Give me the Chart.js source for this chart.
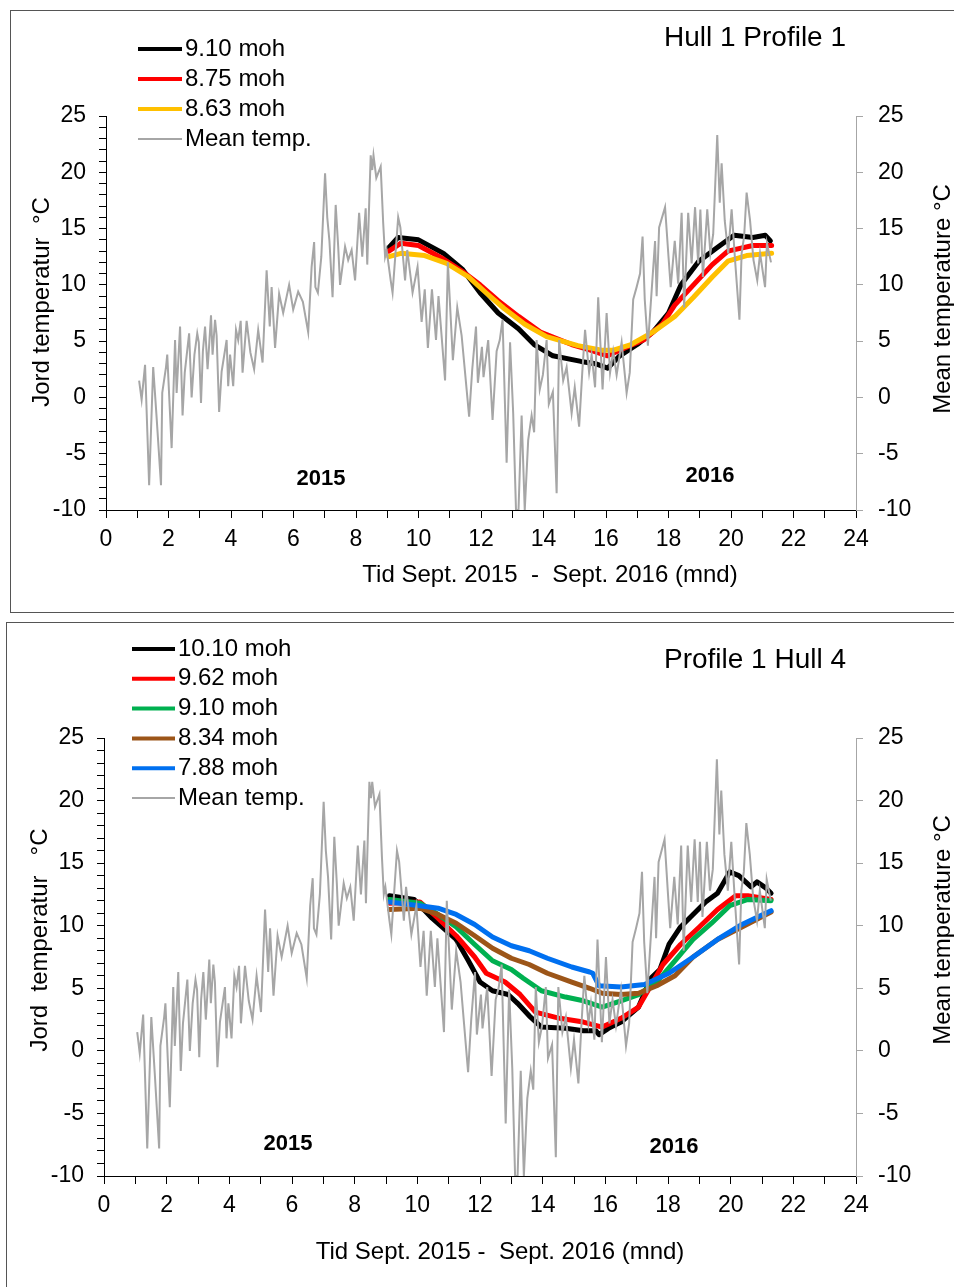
<!DOCTYPE html>
<html>
<head>
<meta charset="utf-8">
<title>Jordtemperatur</title>
<script src="https://cdn.jsdelivr.net/npm/chart.js@4.4.1/dist/chart.umd.min.js"></script>
<style>
    body { margin: 0; background: #fff; width: 954px; height: 1287px; overflow: hidden; position: relative; }
    .frame { position: absolute; border: 1px solid #555; }
    #f1 { left: 10px; top: 10px; width: 1000px; height: 601px; }
    #f2 { left: 6px; top: 622px; width: 1000px; height: 700px; }
    canvas { position: absolute; left: 0; }
    #c1 { top: 0; }
    #c2 { top: 615px; }
</style>
</head>
<body>
<div class="frame" id="f1"></div>
<div class="frame" id="f2"></div>
<canvas id="c1" width="954" height="615"></canvas>
<canvas id="c2" width="954" height="672"></canvas>
<script>
// Mean air temperature (same series in both panels)
const meanMonths = [
    1.06, 1.14, 1.25, 1.38, 1.51, 1.62, 1.76, 1.80, 1.92, 1.96,
    2.10, 2.21, 2.26, 2.37, 2.45, 2.52, 2.66, 2.74, 2.83, 2.92,
    2.97, 3.04, 3.10, 3.17, 3.25, 3.30, 3.36, 3.41, 3.49, 3.54,
    3.62, 3.70, 3.86, 3.91, 3.97, 4.07, 4.16, 4.23, 4.31, 4.37,
    4.50, 4.62, 4.74, 4.87, 5.01, 5.14, 5.24, 5.30, 5.41, 5.54,
    5.67, 5.86, 5.99, 6.15, 6.30, 6.47, 6.58, 6.66, 6.70, 6.78,
    6.89, 7.01, 7.08, 7.15, 7.25, 7.35, 7.43, 7.49, 7.65, 7.75,
    7.86, 7.97, 8.10, 8.20, 8.31, 8.36, 8.47, 8.52, 8.56, 8.65,
    8.79, 8.87, 8.93, 8.98, 9.11, 9.17, 9.35, 9.42, 9.57, 9.64,
    9.81, 9.97, 10.10, 10.20, 10.30, 10.43, 10.56, 10.64, 10.85, 10.94,
    11.10, 11.24, 11.38, 11.49, 11.62, 11.72, 11.84, 11.90, 12.03, 12.08,
    12.23, 12.37, 12.50, 12.60, 12.69, 12.82, 12.93, 13.03, 13.12, 13.20,
    13.30, 13.40, 13.51, 13.62, 13.70, 13.78, 13.88, 13.98, 14.10, 14.17,
    14.30, 14.36, 14.42, 14.50, 14.63, 14.74, 14.90, 15.00, 15.14, 15.24,
    15.33, 15.46, 15.54, 15.65, 15.75, 15.89, 16.02, 16.13, 16.23, 16.34,
    16.50, 16.66, 16.76, 16.87, 16.98, 17.09, 17.17, 17.24, 17.34, 17.57,
    17.62, 17.70, 17.89, 18.00, 18.07, 18.20, 18.31, 18.42, 18.50, 18.63,
    18.74, 18.85, 18.95, 19.02, 19.10, 19.24, 19.34, 19.43, 19.56, 19.64,
    19.70, 19.80, 19.91, 20.02, 20.13, 20.27, 20.34, 20.42, 20.50, 20.61,
    20.72, 20.84, 20.93, 21.09, 21.15, 21.28
];
const meanTemps = [
    1.5, -0.2, 2.9, -7.8, 2.7, -1.8, -7.8, 0.4, 2.7, 3.8,
    -4.5, 5.1, 0.4, 6.3, -1.6, 2.2, 5.7, 0.0, 3.8, 5.7,
    4.9, -0.5, 4.1, 6.3, 2.5, 4.6, 7.3, 3.8, 6.9, 5.5,
    -1.3, 2.3, 5.1, 1.0, 3.8, 1.0, 6.0, 5.1, 6.8, 2.2,
    6.8, 4.0, 2.5, 6.0, 3.1, 11.3, 6.3, 9.8, 4.4, 9.2,
    7.5, 10.0, 7.8, 9.4, 8.5, 5.8, 11.6, 13.8, 9.8, 9.3,
    12.5, 19.9, 16.0, 13.9, 8.9, 17.1, 13.4, 10.0, 13.4, 12.2,
    13.1, 10.4, 16.4, 12.5, 16.8, 11.8, 21.5, 20.2, 21.5, 19.5,
    20.5, 15.5, 12.5, 13.1, 10.4, 9.3, 16.0, 15.1, 10.4, 13.1,
    9.3, 11.6, 6.7, 9.6, 4.4, 9.6, 5.1, 9.0, 1.5, 12.0,
    3.3, 8.0, 5.5, 2.2, -1.7, 2.5, 6.3, 1.3, 4.5, 1.8,
    5.1, -2.0, 4.1, 5.1, 6.9, -5.8, 4.9, -1.4, -10.0, -10.0,
    -1.6, -10.0, -3.8, -1.6, -3.1, 5.1, 0.7, 2.0, 5.1, -0.6,
    0.5, -4.0, -8.5, 5.1, 1.5, 2.7, -1.4, 0.9, -2.6, 2.2,
    6.0, 2.2, 3.8, 0.9, 8.9, 0.7, 7.5, 2.2, 4.1, 2.0,
    4.9, 0.4, 2.2, 8.7, 9.8, 11.0, 14.3, 8.7, 4.6, 13.9,
    9.0, 15.1, 16.9, 12.5, 9.8, 13.9, 10.1, 16.4, 8.0, 16.4,
    11.9, 16.9, 11.9, 16.7, 10.7, 16.7, 12.8, 14.5, 23.3, 17.3,
    20.8, 15.7, 12.8, 16.7, 12.2, 6.9, 12.8, 14.3, 18.2, 15.7,
    12.2, 10.4, 12.8, 9.8, 13.7, 12.0
];

// Hull 1 Profile 1 - soil temperatures
const h1m910Months = [9.05, 9.34, 10.0, 10.8, 11.4, 11.97, 12.55, 13.2, 13.7, 14.3, 15.2, 15.66, 16.05, 16.44, 17.0, 17.5, 18.0, 18.4, 18.97, 19.55, 20.1, 20.7, 21.1, 21.26];
const h1m910Temps  = [13.3, 14.2, 14.0, 12.8, 11.4, 9.3, 7.5, 6.1, 4.7, 3.7, 3.2, 3.0, 2.6, 3.7, 4.7, 5.8, 7.5, 10.0, 12.1, 13.3, 14.4, 14.2, 14.4, 13.9];
const h1m875Months = [9.05, 9.44, 10.0, 10.8, 11.4, 11.97, 12.55, 13.2, 13.9, 14.9, 15.5, 16.05, 16.6, 17.2, 17.8, 18.2, 18.8, 19.4, 19.9, 20.7, 21.3];
const h1m875Temps  = [13.0, 13.7, 13.5, 12.3, 11.2, 10.0, 8.6, 7.2, 5.8, 4.7, 4.2, 3.7, 4.4, 5.1, 6.5, 8.2, 10.0, 11.8, 13.0, 13.5, 13.5];
const h1m863Months = [9.05, 9.44, 10.2, 10.9, 11.6, 12.16, 12.74, 13.4, 14.1, 15.1, 15.86, 16.24, 16.8, 17.5, 18.2, 18.8, 19.4, 19.9, 20.5, 21.3];
const h1m863Temps  = [12.5, 12.8, 12.6, 11.9, 10.7, 9.3, 7.9, 6.5, 5.4, 4.6, 4.2, 4.2, 4.7, 5.8, 7.2, 8.9, 10.7, 12.1, 12.6, 12.8];

// Profile 1 Hull 4 - soil temperatures
const h4m1010Months = [9.11, 9.9, 10.47, 11.24, 11.63, 12.0, 12.4, 12.9, 13.2, 13.57, 13.96, 14.73, 15.3, 15.7, 15.8, 16.1, 16.5, 17.06, 17.45, 17.74, 18.03, 18.4, 18.8, 19.2, 19.58, 19.97, 20.26, 20.65, 20.84, 21.13, 21.29];
const h4m1010Temps  = [12.4, 12.1, 10.6, 8.9, 7.2, 5.5, 4.8, 4.5, 3.8, 2.8, 1.9, 1.8, 1.6, 1.6, 1.3, 1.8, 2.3, 3.5, 5.8, 6.5, 8.5, 9.9, 10.9, 11.9, 12.6, 14.3, 14.0, 13.1, 13.5, 13.0, 12.6];
const h4m962Months = [9.11, 10.08, 10.66, 11.24, 11.83, 12.2, 12.8, 13.28, 13.77, 14.54, 15.3, 15.9, 16.5, 17.06, 17.45, 17.84, 18.4, 19.0, 19.58, 20.16, 20.55, 21.29];
const h4m962Temps  = [11.8, 11.9, 10.6, 9.2, 7.5, 6.2, 5.5, 4.5, 3.1, 2.6, 2.3, 1.9, 2.6, 3.5, 5.2, 6.9, 8.5, 9.9, 11.3, 12.4, 12.4, 12.1];
const h4m910Months = [9.11, 10.08, 10.66, 11.24, 11.83, 12.4, 13.0, 13.38, 13.96, 14.73, 15.3, 15.9, 16.5, 17.06, 17.64, 18.22, 18.8, 19.39, 19.97, 20.55, 21.29];
const h4m910Temps  = [12.1, 11.8, 10.9, 9.9, 8.5, 7.2, 6.5, 5.8, 4.8, 4.3, 4.0, 3.5, 4.0, 4.5, 5.5, 7.2, 8.9, 10.2, 11.6, 12.1, 12.0];
const h4m834Months = [9.11, 10.08, 10.66, 11.24, 11.83, 12.4, 13.0, 13.57, 14.15, 14.93, 15.5, 15.9, 16.5, 17.06, 17.64, 18.22, 18.8, 19.58, 20.36, 21.13, 21.29];
const h4m834Temps  = [11.3, 11.4, 10.9, 10.2, 9.2, 8.2, 7.4, 6.9, 6.2, 5.5, 5.0, 4.6, 4.5, 4.6, 5.2, 6.0, 7.5, 8.9, 9.9, 10.9, 11.1];
const h4m788Months = [9.11, 10.08, 10.66, 11.24, 11.83, 12.4, 13.0, 13.57, 14.15, 14.93, 15.5, 15.6, 15.8, 16.5, 17.25, 18.03, 18.8, 19.58, 20.36, 21.03, 21.29];
const h4m788Temps  = [11.9, 11.6, 11.4, 10.9, 10.1, 9.1, 8.4, 8.0, 7.4, 6.7, 6.3, 6.2, 5.2, 5.1, 5.3, 6.2, 7.5, 8.9, 10.1, 10.9, 11.2];

const FONT = "'Liberation Sans', Arial, sans-serif";
const GREY = '#a6a6a6';

function pairs(xs, ys) {
    return xs.map((x, i) => ({ x: x, y: ys[i] }));
}

function soil(label, xs, ys, color, order) {
    return {
        label: label, data: pairs(xs, ys), yAxisID: 'y', order: order,
        borderColor: color, backgroundColor: color, borderWidth: 5,
        borderJoinStyle: 'round', borderCapStyle: 'round', pointRadius: 0, legendWidth: 4
    };
}

function mean() {
    return {
        label: 'Mean temp.', data: pairs(meanMonths, meanTemps), yAxisID: 'y2', order: 0,
        borderColor: GREY, backgroundColor: GREY, borderWidth: 2, pointRadius: 0, legendWidth: 2
    };
}

// texts drawn on top of the chart: title, legend, years, axis titles
const panelText = {
    id: 'panelText',
    afterDraw(chart, args, o) {
        const ctx = chart.ctx;
        const sx = chart.scales.x, sy = chart.scales.y;
        ctx.save();
        ctx.fillStyle = '#000';
        ctx.textBaseline = 'middle';

        ctx.font = '28px ' + FONT;
        ctx.textAlign = 'center';
        ctx.fillText(o.title, o.titleX, o.titleY);

        ctx.font = '24px ' + FONT;
        ctx.textAlign = 'left';
        chart.data.datasets.forEach((ds, i) => {
            const y = o.legendY + i * o.legendStep;
            ctx.strokeStyle = ds.borderColor;
            ctx.lineWidth = ds.legendWidth;
            ctx.beginPath();
            ctx.moveTo(o.legendX0, y);
            ctx.lineTo(o.legendX1, y);
            ctx.stroke();
            ctx.fillText(ds.label, o.legendX1 + 3, y);
        });

        ctx.font = 'bold 22px ' + FONT;
        ctx.textAlign = 'center';
        o.years.forEach(t => {
            ctx.fillText(t.text, sx.getPixelForValue(t.x), sy.getPixelForValue(t.y));
        });

        ctx.font = '24px ' + FONT;
        ctx.fillText(o.xTitle, o.xTitleX, o.xTitleY);

        [[o.yTitle, o.yTitleX, o.yTitleY], [o.y2Title, o.y2TitleX, o.y2TitleY]].forEach(t => {
            ctx.save();
            ctx.translate(t[1], t[2]);
            ctx.rotate(-Math.PI / 2);
            ctx.fillText(t[0], 0, 0);
            ctx.restore();
        });
        ctx.restore();
    }
};

function makeChart(id, datasets, p) {
    const tickFont = { family: FONT, size: 23 };
    new Chart(document.getElementById(id), {
        type: 'line',
        data: { datasets: datasets },
        plugins: [panelText],
        options: {
            responsive: false,
            animation: false,
            layout: { padding: { top: p.areaTop, left: 0, right: 0, bottom: 0 } },
            plugins: { legend: { display: false }, tooltip: { enabled: false }, panelText: p.text },
            scales: {
                x: {
                    type: 'linear', min: 0, max: 24,
                    afterFit: s => { s.height = p.xAxisH; },
                    ticks: { stepSize: 1, autoSkip: false, maxRotation: 0, padding: 8, color: '#000', font: tickFont,
                        callback: v => (v % 2 === 0 ? v : '') },
                    grid: { drawOnChartArea: false, tickLength: 8, color: '#000' },
                    border: { color: '#000' }
                },
                y: {
                    position: 'left', min: -10, max: 25,
                    afterFit: s => { s.width = p.leftW; },
                    ticks: { stepSize: 1, autoSkip: false, padding: 13, color: '#000', font: tickFont,
                        callback: v => (v % 5 === 0 ? v : '') },
                    grid: { drawOnChartArea: false, tickLength: 7, color: '#000' },
                    border: { color: '#000' }
                },
                y2: {
                    position: 'right', min: -10, max: 25,
                    afterFit: s => { s.width = p.rightW; },
                    ticks: { stepSize: 5, padding: 15, color: '#000', font: tickFont },
                    grid: { drawOnChartArea: false, tickLength: 7, color: GREY },
                    border: { color: GREY }
                }
            }
        }
    });
}

makeChart('c1', [
    soil('9.10 moh', h1m910Months, h1m910Temps, '#000000', 3),
    soil('8.75 moh', h1m875Months, h1m875Temps, '#ff0000', 2),
    soil('8.63 moh', h1m863Months, h1m863Temps, '#ffc000', 1),
    mean()
], {
    areaTop: 116, xAxisH: 105, leftW: 106, rightW: 98,
    text: {
        title: 'Hull 1 Profile 1', titleX: 755, titleY: 38,
        legendX0: 138, legendX1: 182, legendY: 49, legendStep: 30,
        years: [{ text: '2015', x: 6.88, y: -7.2 }, { text: '2016', x: 19.33, y: -7.0 }],
        xTitle: 'Tid Sept. 2015  -  Sept. 2016 (mnd)', xTitleX: 550, xTitleY: 575,
        yTitle: 'Jord temperatur  °C', yTitleX: 42, yTitleY: 302,
        y2Title: 'Mean temperature °C', y2TitleX: 943, y2TitleY: 299
    }
});

makeChart('c2', [
    soil('10.10 moh', h4m1010Months, h4m1010Temps, '#000000', 5),
    soil('9.62 moh', h4m962Months, h4m962Temps, '#ff0000', 4),
    soil('9.10 moh', h4m910Months, h4m910Temps, '#00b050', 3),
    soil('8.34 moh', h4m834Months, h4m834Temps, '#9c5518', 2),
    soil('7.88 moh', h4m788Months, h4m788Temps, '#0070f0', 1),
    mean()
], {
    areaTop: 123, xAxisH: 111, leftW: 104, rightW: 98,
    text: {
        title: 'Profile 1 Hull 4', titleX: 755, titleY: 45,
        legendX0: 132, legendX1: 175, legendY: 34, legendStep: 29.8,
        years: [{ text: '2015', x: 5.87, y: -7.4 }, { text: '2016', x: 18.19, y: -7.7 }],
        xTitle: 'Tid Sept. 2015 -  Sept. 2016 (mnd)', xTitleX: 500, xTitleY: 637,
        yTitle: 'Jord  temperatur   °C', yTitleX: 40, yTitleY: 325,
        y2Title: 'Mean temperature °C', y2TitleX: 943, y2TitleY: 315
    }
});
</script>
</body>
</html>
